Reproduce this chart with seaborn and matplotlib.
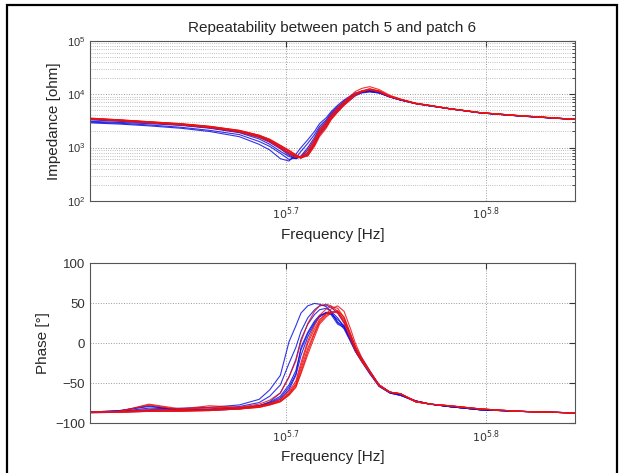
import numpy as np
import pandas as pd
import matplotlib
matplotlib.use("Agg")
import matplotlib.pyplot as plt
import matplotlib.ticker as mticker
from matplotlib.patches import Rectangle
import seaborn as sns

# frequency points [kHz]
freq_khz = [400, 414, 428, 444, 459, 475, 486, 492, 498, 503, 507, 510, 514, 518, 521, 525,
            528, 532, 536, 540, 543, 547, 552, 558, 565, 572, 582, 592, 605, 627, 656, 700]

# impedance [ohm], patch 5 (blue)
imp_b1 = [2900, 2750, 2550, 2300, 2000, 1600, 1150, 900, 620, 560, 750, 1000, 1400, 2000, 2800, 3600,
          4700, 6200, 7800, 9300, 10500, 11200, 11300, 10500, 8800, 7700, 6600, 6000, 5300, 4450, 3900, 3350]
imp_b2 = [3000, 2850, 2650, 2400, 2100, 1750, 1300, 1050, 780, 600, 640, 850, 1200, 1750, 2500, 3300,
          4400, 5800, 7400, 9000, 10300, 11300, 11800, 10800, 9000, 7800, 6700, 6050, 5350, 4450, 3900, 3350]
imp_b3 = [3300, 3100, 2900, 2650, 2350, 1950, 1550, 1250, 950, 720, 620, 680, 900, 1400, 2100, 2900,
          3900, 5200, 6800, 8400, 9800, 10900, 11600, 10900, 9000, 7800, 6700, 6050, 5350, 4480, 3920, 3360]
imp_b4 = [3400, 3200, 2950, 2700, 2400, 2000, 1600, 1300, 980, 760, 650, 650, 820, 1250, 1900, 2700,
          3700, 5000, 6600, 8200, 9600, 10700, 11200, 10600, 8900, 7800, 6700, 6050, 5350, 4480, 3920, 3360]
imp_b5 = [3100, 2950, 2800, 2600, 2300, 1900, 1450, 1150, 850, 680, 620, 700, 1000, 1550, 2300, 3100,
          4200, 5600, 7200, 8800, 10100, 11000, 11400, 10700, 8900, 7750, 6650, 6000, 5330, 4460, 3900, 3350]
imp_b6 = [3450, 3250, 3000, 2750, 2450, 2050, 1650, 1350, 1020, 800, 680, 640, 760, 1150, 1750, 2500,
          3500, 4700, 6300, 7900, 9300, 10500, 11000, 10500, 8900, 7800, 6700, 6050, 5350, 4480, 3920, 3360]

# impedance [ohm], patch 6 (red)
imp_r1 = [3500, 3250, 3000, 2750, 2450, 2050, 1650, 1380, 1050, 850, 700, 630, 750, 1250, 1900, 2700,
          3700, 5100, 6700, 8400, 10000, 11200, 12000, 11000, 8900, 7900, 6650, 6100, 5350, 4500, 3950, 3370]
imp_r2 = [3550, 3300, 3050, 2800, 2500, 2100, 1700, 1420, 1100, 880, 720, 640, 700, 1100, 1700, 2400,
          3400, 4700, 6300, 8000, 9700, 11200, 12500, 11500, 9200, 8000, 6700, 6100, 5350, 4500, 3950, 3370]
imp_r3 = [3450, 3200, 2950, 2700, 2400, 2000, 1600, 1330, 1000, 800, 680, 650, 800, 1300, 2000, 2900,
          4000, 5500, 7300, 9300, 11200, 12800, 13800, 12200, 9500, 8100, 6800, 6150, 5380, 4500, 3950, 3370]
imp_r4 = [3500, 3250, 3000, 2750, 2450, 2050, 1680, 1400, 1080, 870, 720, 660, 720, 1150, 1800, 2600,
          3600, 5000, 6600, 8300, 10000, 11500, 12600, 11400, 9100, 7950, 6700, 6100, 5350, 4500, 3950, 3370]
imp_r5 = [3400, 3150, 2900, 2650, 2350, 1950, 1550, 1280, 960, 760, 650, 680, 900, 1450, 2200, 3000,
          4100, 5500, 7100, 8800, 10300, 11500, 12200, 11200, 9000, 7900, 6700, 6100, 5350, 4500, 3950, 3370]
imp_r6 = [3550, 3300, 3050, 2800, 2500, 2100, 1700, 1430, 1100, 890, 740, 660, 700, 1050, 1600, 2300,
          3300, 4600, 6200, 7900, 9600, 11000, 12200, 11300, 9100, 7950, 6700, 6100, 5350, 4500, 3950, 3370]

# phase [deg], patch 5 (blue)
ph_b1 = [-86, -85, -83, -81, -80, -77, -70, -58, -40, 2, 22, 38, 47, 50, 49, 46,
         40, 32, 20, 5, -8, -20, -35, -52, -61, -64, -72, -76, -79, -83, -85, -87]
ph_b2 = [-86, -84, -79, -83, -82, -79, -74, -66, -52, -25, -5, 15, 32, 42, 47, 48,
         45, 38, 26, 10, -5, -18, -34, -52, -61, -64, -72, -76, -79, -83, -85, -87]
ph_b3 = [-86, -84, -78, -84, -83, -81, -78, -75, -68, -55, -38, -5, 14, 28, 35, 38,
         36, 24, 20, 3, -10, -22, -37, -53, -62, -65, -72, -76, -79, -83, -85, -87]
ph_b4 = [-86, -85, -84, -82, -83, -81, -78, -74, -66, -52, -34, -8, 12, 26, 34, 39,
         38, 27, 18, 2, -10, -23, -38, -54, -62, -65, -73, -76, -79, -83, -85, -87]
ph_b5 = [-86, -85, -81, -82, -84, -82, -79, -76, -70, -58, -40, -15, 8, 24, 33, 38,
         37, 30, 22, 5, -8, -21, -36, -53, -62, -65, -72, -76, -79, -83, -85, -87]
ph_b6 = [-87, -86, -85, -84, -83, -81, -78, -73, -62, -42, -20, 5, 24, 36, 42, 44,
         40, 26, 22, 6, -7, -20, -35, -52, -61, -64, -72, -76, -79, -83, -85, -87]

# phase [deg], patch 6 (red)
ph_r1 = [-86, -86, -85, -85, -84, -82, -79, -76, -72, -62, -50, -28, 0, 18, 30, 37,
         40, 38, 25, 5, -10, -23, -36, -53, -61, -63, -73, -76, -78, -82, -85, -87]
ph_r2 = [-86, -85, -76, -82, -78, -80, -78, -75, -70, -60, -47, -24, 3, 22, 35, 43,
         46, 44, 32, 10, -6, -21, -36, -53, -61, -63, -73, -76, -78, -82, -85, -87]
ph_r3 = [-86, -85, -77, -83, -80, -81, -79, -76, -72, -63, -52, -32, -6, 14, 28, 37,
         43, 47, 40, 18, 0, -18, -34, -52, -61, -63, -73, -76, -78, -82, -85, -87]
ph_r4 = [-86, -86, -84, -84, -83, -82, -80, -77, -73, -64, -54, -36, -10, 12, 26, 35,
         39, 40, 30, 10, -6, -21, -36, -53, -61, -63, -73, -76, -78, -82, -85, -87]
ph_r5 = [-86, -85, -83, -82, -82, -80, -76, -71, -62, -42, -22, 2, 25, 40, 47, 49,
         47, 40, 28, 10, -5, -20, -35, -52, -61, -63, -72, -76, -78, -82, -85, -87]
ph_r6 = [-86, -86, -85, -85, -84, -82, -80, -77, -73, -65, -55, -38, -14, 8, 24, 33,
         38, 41, 33, 12, -4, -20, -35, -52, -61, -63, -73, -76, -78, -82, -85, -87]

traces = {
    "b1": (imp_b1, ph_b1), "b2": (imp_b2, ph_b2), "b3": (imp_b3, ph_b3),
    "b4": (imp_b4, ph_b4), "b5": (imp_b5, ph_b5), "b6": (imp_b6, ph_b6),
    "r1": (imp_r1, ph_r1), "r2": (imp_r2, ph_r2), "r3": (imp_r3, ph_r3),
    "r4": (imp_r4, ph_r4), "r5": (imp_r5, ph_r5), "r6": (imp_r6, ph_r6),
}

rows = []
for name, (imp, ph) in traces.items():
    for f, z, p in zip(freq_khz, imp, ph):
        rows.append({"trace": name, "freq": f * 1000.0, "imp": z, "phase": p})
df = pd.DataFrame(rows)
palette = {k: ("#1010e0" if k.startswith("b") else "#ee1010") for k in traces}

sns.set_style("white")
plt.rcParams["font.family"] = ["Liberation Sans", "DejaVu Sans"]

fig = plt.figure(figsize=(6.23, 4.73), dpi=100)
ax1 = fig.add_axes([0.1445, 0.575, 0.7785, 0.339])
ax2 = fig.add_axes([0.1445, 0.105, 0.7785, 0.338])

for ax, col in [(ax1, "imp"), (ax2, "phase")]:
    sns.lineplot(data=df, x="freq", y=col, hue="trace", palette=palette, ax=ax,
                 linewidth=0.8, alpha=0.85, legend=False, sort=False, estimator=None)
    ax.set_xscale("log")
    ax.set_xlim(10 ** 5.602, 10 ** 5.8447)
    ax.set_xticks([10 ** 5.7, 10 ** 5.8])
    ax.set_xticklabels(["$10^{5.7}$", "$10^{5.8}$"])
    ax.xaxis.set_minor_locator(mticker.NullLocator())
    ax.set_xlabel("Frequency [Hz]", fontsize=11)
    ax.tick_params(which="both", direction="in", top=True, right=True,
                   labelsize=8, colors="#333333", length=4)
    ax.tick_params(which="minor", length=2)
    for s in ax.spines.values():
        s.set_color("#555555")
        s.set_linewidth(0.8)
    ax.grid(True, which="major", axis="both", linestyle=":", color="#999999", linewidth=0.7)

ax1.set_yscale("log")
ax1.set_ylim(1e2, 1e5)
ax1.yaxis.set_major_locator(mticker.LogLocator(base=10, numticks=10))
ax1.yaxis.set_minor_locator(mticker.LogLocator(base=10, subs=np.arange(2, 10), numticks=20))
ax1.yaxis.set_minor_formatter(mticker.NullFormatter())
ax1.grid(True, which="minor", axis="y", linestyle=":", color="#aaaaaa", linewidth=0.6)
ax1.set_ylabel("Impedance [ohm]", fontsize=11)
ax1.set_title("Repeatability between patch 5 and patch 6", fontsize=11, pad=6)

ax2.set_ylim(-100, 100)
ax2.set_yticks([-100, -50, 0, 50, 100])
ax2.tick_params(axis="y", labelsize=9.5)
ax2.set_ylabel("Phase [°]", fontsize=11)

fig.patches.append(Rectangle((0.0115, -0.02), 0.9785, 1.009, transform=fig.transFigure,
                             fill=False, edgecolor="black", linewidth=1.6))

fig.savefig("out.png", dpi=100)
